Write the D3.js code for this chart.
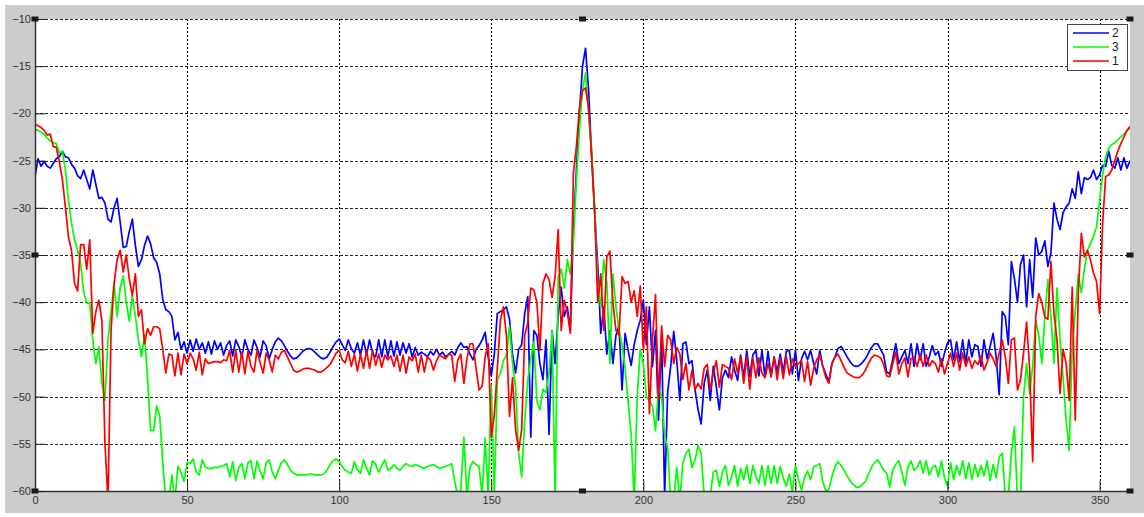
<!DOCTYPE html>
<html>
<head>
<meta charset="utf-8">
<script src="https://d3js.org/d3.v7.min.js"></script>
<style>
body { margin: 0; background: #ffffff; }
text { font-family: "Liberation Sans", Arial, sans-serif; }
</style>
</head>
<body>
<script>
// axis ticks
var xTicks = [0, 50, 100, 150, 200, 250, 300, 350];
var yTicks = [-60, -55, -50, -45, -40, -35, -30, -25, -20, -15, -10];
// legend order = plot order
var legendNames = ["2", "3", "1"];
var legendColors = ["#0000ff", "#00ff00", "#ff0000"];

// one value per degree, 0..360
var trace2 = [
 -26.7,-24.8,-25.6,-25.1,-25.6,-25.8,-25.3,-24.8,-24.6,-24.0,
 -24.6,-24.7,-25.4,-25.8,-26.6,-26.9,-26.0,-27.0,-28.0,-26.0,
 -27.5,-29.0,-28.9,-29.5,-31.2,-31.5,-30.0,-29.0,-31.5,-34.2,
 -34.1,-32.5,-31.2,-34.0,-36.2,-35.5,-34.0,-33.0,-33.8,-35.3,
 -35.8,-37.0,-39.7,-40.8,-41.0,-41.5,-44.0,-43.2,-45.0,-44.2,
 -45.4,-44.0,-45.2,-43.9,-45.0,-44.3,-45.4,-44.2,-45.5,-44.1,
 -45.0,-44.3,-45.6,-44.6,-44.1,-45.7,-44.0,-44.7,-45.8,-44.0,
 -45.0,-45.6,-44.0,-44.8,-45.8,-44.1,-44.6,-46.0,-45.0,-44.2,
 -43.8,-44.1,-44.6,-45.2,-45.7,-46.0,-45.9,-45.6,-45.2,-45.0,
 -44.9,-45.0,-45.3,-45.6,-45.9,-46.0,-45.8,-45.3,-44.7,-44.2,
 -43.9,-44.5,-45.1,-44.0,-44.9,-45.4,-44.3,-45.6,-44.0,-45.6,
 -44.0,-45.4,-45.8,-44.0,-45.8,-44.0,-45.8,-44.1,-45.7,-44.2,
 -45.6,-44.3,-45.4,-44.4,-45.8,-44.8,-45.6,-45.3,-45.5,-45.8,
 -45.2,-45.6,-45.0,-45.6,-45.3,-45.8,-45.5,-45.2,-45.6,-44.8,
 -44.3,-44.8,-44.7,-45.5,-46.1,-45.0,-44.6,-44.0,-43.2,-45.8,
 -47.8,-45.5,-41.2,-41.0,-40.8,-40.5,-41.8,-45.5,-47.5,-45.0,
 -44.5,-41.2,-39.4,-54.3,-43.0,-43.5,-46.5,-48.2,-44.0,-54.0,
 -43.0,-46.5,-41.5,-38.4,-41.5,-40.5,-43.0,-32.3,-26.0,-20.0,
 -15.0,-13.1,-17.5,-24.5,-30.5,-36.0,-43.3,-40.5,-45.5,-43.0,
 -46.5,-43.5,-42.5,-49.3,-43.3,-45.1,-46.7,-44.5,-43.0,-41.9,
 -39.8,-44.5,-40.5,-46.8,-43.0,-52.5,-43.5,-60.5,-49.5,-46.8,
 -43.1,-46.2,-50.4,-44.4,-44.2,-46.5,-46.2,-49.3,-51.4,-52.9,
 -48.6,-47.2,-50.4,-46.8,-49.0,-51.4,-48.0,-47.2,-48.0,-45.8,
 -47.2,-48.3,-45.6,-48.0,-45.1,-47.9,-45.6,-45.1,-47.8,-45.1,
 -47.9,-45.2,-47.9,-45.8,-47.4,-45.5,-47.4,-45.2,-45.1,-47.6,
 -45.1,-48.3,-46.0,-45.2,-46.1,-45.1,-46.5,-47.6,-45.1,-46.8,
 -47.6,-48.4,-46.5,-45.8,-44.9,-44.7,-45.2,-45.8,-46.3,-46.7,
 -46.8,-46.7,-46.4,-46.0,-45.4,-44.8,-44.4,-44.4,-45.0,-45.6,
 -47.4,-47.6,-46.0,-44.4,-46.5,-45.8,-45.1,-46.5,-44.4,-46.8,
 -44.4,-46.1,-44.4,-46.8,-45.8,-44.6,-45.6,-45.2,-46.8,-45.4,
 -44.3,-44.0,-46.1,-44.2,-46.3,-44.0,-46.5,-44.0,-45.8,-44.5,
 -44.7,-46.8,-44.0,-46.0,-44.7,-43.3,-45.8,-49.8,-41.0,-41.5,
 -44.5,-35.7,-37.5,-40.0,-36.0,-35.0,-40.5,-35.5,-39.5,-33.2,
 -35.0,-34.6,-33.5,-36.2,-34.8,-29.5,-31.2,-32.3,-30.5,-29.9,
 -29.5,-28.0,-29.0,-26.2,-28.5,-26.8,-27.0,-26.8,-26.0,-27.0,
 -26.5,-25.5,-25.6,-24.0,-25.5,-25.8,-24.7,-26.0,-24.7,-25.8,
 -25.0
];

var trace3 = [
 -21.7,-21.8,-22.0,-22.2,-22.6,-22.9,-23.1,-23.2,-24.2,-24.0,
 -26.0,-29.2,-31.6,-33.4,-34.5,-35.9,-38.9,-40.1,-40.1,-44.0,
 -46.5,-44.7,-48.6,-50.4,-44.0,-41.0,-38.0,-41.5,-38.5,-37.2,
 -40.0,-42.0,-39.3,-41.5,-44.0,-45.8,-43.4,-48.0,-53.6,-53.6,
 -51.0,-52.0,-57.0,-61.0,-61.0,-58.3,-61.0,-57.4,-58.0,-59.0,
 -57.0,-57.1,-56.6,-58.0,-58.3,-56.7,-57.5,-57.6,-57.6,-57.5,
 -57.5,-57.4,-57.3,-57.1,-58.5,-56.9,-58.9,-57.5,-57.1,-58.7,
 -57.0,-56.8,-58.7,-56.8,-57.9,-58.7,-57.0,-56.7,-58.0,-58.7,
 -57.8,-57.0,-56.7,-57.2,-57.8,-58.1,-58.3,-58.3,-58.3,-58.3,
 -58.2,-58.2,-58.3,-58.3,-58.3,-58.2,-57.8,-57.2,-56.8,-56.6,
 -56.9,-57.4,-57.8,-58.0,-58.1,-56.9,-57.8,-58.1,-56.7,-57.6,
 -58.3,-56.8,-57.2,-58.0,-57.3,-56.7,-57.8,-57.6,-57.2,-57.6,
 -57.8,-57.4,-57.1,-57.3,-57.4,-57.2,-57.3,-57.5,-57.6,-57.4,
 -57.3,-57.2,-57.4,-57.6,-57.5,-57.4,-57.3,-57.1,-59.0,-60.5,
 -59.9,-54.3,-60.5,-57.5,-56.9,-57.2,-57.4,-60.5,-54.4,-60.5,
 -48.8,-60.5,-48.3,-47.5,-46.2,-45.6,-42.5,-46.5,-49.0,-56.0,
 -58.5,-52.5,-48.3,-46.0,-44.2,-50.5,-51.4,-49.2,-49.6,-47.5,
 -43.0,-61.0,-37.3,-36.5,-38.5,-35.5,-37.0,-33.8,-27.0,-21.7,
 -17.5,-15.7,-20.0,-24.0,-30.0,-38.0,-40.5,-35.5,-38.0,-46.5,
 -37.0,-40.5,-43.0,-44.5,-47.0,-50.5,-54.0,-61.0,-50.0,-45.0,
 -46.5,-50.0,-50.5,-51.0,-53.6,-49.0,-50.0,-54.0,-55.5,-61.0,
 -61.0,-57.5,-61.0,-57.0,-56.0,-55.6,-57.5,-56.7,-55.2,-56.0,
 -60.5,-61.0,-60.5,-58.0,-57.8,-59.5,-58.0,-57.3,-59.4,-58.5,
 -57.3,-59.5,-57.6,-58.8,-57.3,-59.2,-57.3,-58.5,-59.2,-57.3,
 -59.4,-57.3,-59.2,-57.3,-59.2,-57.4,-58.6,-59.5,-58.2,-60.1,
 -57.3,-58.8,-59.9,-58.5,-57.9,-58.8,-57.4,-57.3,-57.1,-59.0,
 -60.0,-59.8,-58.5,-57.4,-56.9,-57.3,-57.8,-58.4,-58.9,-59.3,
 -59.6,-59.6,-59.3,-59.0,-58.2,-57.5,-57.0,-56.7,-57.2,-57.8,
 -58.1,-59.6,-57.8,-57.2,-56.8,-58.0,-59.4,-57.5,-56.8,-57.8,
 -57.5,-56.8,-58.1,-56.8,-58.3,-57.5,-57.3,-58.5,-56.8,-58.6,
 -59.5,-57.0,-58.8,-57.3,-58.3,-56.8,-58.7,-57.0,-58.8,-57.2,
 -58.5,-57.3,-58.4,-56.8,-58.9,-57.2,-58.6,-56.4,-56.0,-60.5,
 -60.5,-56.0,-53.2,-61.0,-61.0,-50.0,-46.5,-49.7,-46.8,-41.9,
 -43.5,-46.5,-41.5,-37.6,-41.5,-46.5,-38.5,-44.0,-48.0,-52.5,
 -55.7,-45.0,-41.0,-37.0,-39.0,-36.5,-34.5,-33.8,-33.0,-32.0,
 -29.2,-26.5,-24.6,-23.7,-23.3,-23.1,-22.8,-22.5,-22.2,-21.8,
 -21.6
];

var trace1 = [
 -21.2,-21.3,-21.5,-21.8,-22.3,-22.2,-23.5,-23.6,-25.1,-27.0,
 -29.9,-33.1,-34.5,-38.0,-38.8,-33.9,-33.9,-36.5,-33.4,-43.3,
 -41.0,-39.8,-42.0,-55.0,-61.0,-43.0,-38.0,-35.5,-34.5,-36.8,
 -35.0,-37.5,-39.3,-37.0,-41.5,-40.8,-44.4,-42.8,-43.5,-42.6,
 -42.6,-42.8,-45.0,-47.5,-45.5,-45.6,-47.8,-45.4,-47.7,-45.5,
 -46.5,-45.4,-46.0,-47.2,-45.3,-47.7,-46.0,-46.5,-46.4,-46.3,
 -46.3,-46.4,-46.1,-46.2,-45.1,-47.4,-45.1,-47.4,-45.3,-47.6,
 -45.2,-46.8,-47.4,-45.1,-46.4,-47.5,-45.4,-46.1,-47.4,-45.6,
 -46.0,-45.3,-45.1,-45.8,-46.5,-47.2,-47.4,-47.3,-47.1,-47.0,
 -47.0,-47.1,-47.2,-47.4,-47.4,-47.2,-46.9,-46.6,-46.0,-45.4,
 -45.1,-46.1,-46.4,-45.2,-46.8,-45.5,-47.3,-45.5,-47.0,-45.1,
 -47.0,-45.1,-46.7,-45.5,-46.9,-45.6,-46.1,-45.7,-46.8,-45.6,
 -47.3,-45.6,-47.5,-45.8,-46.2,-45.5,-47.4,-45.6,-47.4,-45.8,
 -46.1,-47.2,-46.2,-45.6,-45.8,-46.0,-45.5,-45.6,-48.4,-46.1,
 -45.5,-48.6,-46.0,-44.4,-44.4,-47.0,-49.3,-48.9,-45.8,-44.4,
 -54.3,-52.0,-47.0,-41.9,-40.5,-43.6,-52.1,-48.0,-53.5,-55.7,
 -53.5,-43.5,-42.2,-38.5,-38.7,-40.0,-45.1,-38.0,-37.0,-37.6,
 -39.5,-37.3,-32.3,-43.0,-39.8,-41.0,-43.3,-26.3,-23.5,-19.4,
 -17.6,-17.3,-19.5,-24.5,-30.5,-40.0,-37.0,-43.0,-35.2,-34.6,
 -40.0,-43.0,-43.5,-37.3,-38.0,-37.8,-40.0,-38.8,-41.5,-38.3,
 -45.1,-40.5,-51.8,-44.0,-39.2,-50.4,-42.5,-46.8,-43.5,-44.0,
 -46.5,-44.8,-45.5,-48.2,-46.5,-49.3,-47.2,-49.3,-48.6,-49.2,
 -47.0,-46.6,-49.3,-47.5,-46.2,-49.0,-46.6,-46.8,-47.0,-48.2,
 -46.0,-47.5,-45.8,-48.6,-45.8,-49.2,-45.9,-48.0,-45.9,-47.5,
 -48.0,-46.5,-47.8,-45.8,-48.2,-45.9,-48.1,-45.8,-47.7,-46.0,
 -46.8,-46.5,-46.2,-48.4,-46.3,-48.8,-47.0,-46.1,-45.6,-46.8,
 -48.0,-48.6,-46.5,-45.8,-45.5,-46.2,-46.9,-47.5,-47.7,-47.9,
 -48.0,-48.0,-47.7,-47.2,-46.5,-45.9,-45.6,-45.7,-45.9,-46.6,
 -47.8,-47.9,-46.5,-45.3,-47.6,-46.5,-45.9,-47.9,-46.0,-45.8,
 -46.8,-45.6,-46.8,-45.6,-46.8,-46.2,-46.5,-47.4,-46.0,-47.6,
 -46.5,-45.4,-46.8,-45.4,-47.2,-45.4,-46.8,-45.8,-47.0,-46.2,
 -46.6,-45.7,-47.2,-46.4,-45.4,-46.0,-46.8,-45.4,-44.0,-45.8,
 -48.6,-44.0,-43.8,-49.3,-48.2,-45.4,-42.1,-47.0,-56.9,-41.5,
 -39.1,-40.0,-41.6,-41.8,-35.7,-41.2,-44.0,-49.7,-45.0,-46.5,
 -50.4,-38.4,-52.5,-39.0,-32.7,-35.2,-34.5,-35.5,-36.9,-37.8,
 -41.2,-31.6,-26.7,-26.5,-26.0,-25.0,-24.0,-23.2,-22.5,-21.8,
 -21.4
];

var traces = [trace2, trace3, trace1];

var W = 1144, H = 517;
var plotL = 35, plotR = 1130, plotT = 19, plotB = 491;

var svg = d3.select("body").append("svg").attr("width", W).attr("height", H);

// grey figure background
svg.append("rect").attr("x", 5).attr("y", 5).attr("width", W - 5).attr("height", H - 9).attr("fill", "#cccccc");
svg.append("rect").attr("x", plotL).attr("y", plotT).attr("width", plotR - plotL).attr("height", plotB - plotT).attr("fill", "#ffffff");

var x = d3.scaleLinear().domain([0, 360]).range([plotL, plotR]);
var y = d3.scaleLinear().domain([-60, -10]).range([plotB, plotT]);

// dotted grid
var grid = svg.append("g").attr("shape-rendering", "crispEdges");
grid.selectAll("line.gx").data(xTicks.filter(function(d){ return d > 0; })).enter().append("line")
    .attr("x1", function(d){ return Math.round(x(d)) + 0.5; }).attr("x2", function(d){ return Math.round(x(d)) + 0.5; })
    .attr("y1", plotT).attr("y2", plotB)
    .attr("stroke", "#000").attr("stroke-dasharray", "2,2");
grid.selectAll("line.gy").data(yTicks.filter(function(d){ return d > -60; })).enter().append("line")
    .attr("y1", function(d){ return Math.round(y(d)) + 0.5; }).attr("y2", function(d){ return Math.round(y(d)) + 0.5; })
    .attr("x1", plotL).attr("x2", plotR)
    .attr("stroke", "#222").attr("stroke-dasharray", "3,2");

// lines, clipped to the axes box
svg.append("clipPath").attr("id", "plotclip").append("rect")
    .attr("x", plotL).attr("y", plotT).attr("width", plotR - plotL).attr("height", plotB - plotT);

var line = d3.line().x(function(d, i){ return x(i); }).y(function(d){ return y(d); });
var lines = svg.append("g").attr("clip-path", "url(#plotclip)");
traces.forEach(function(t, k) {
    lines.append("path").attr("d", line(t)).attr("fill", "none")
        .attr("stroke", legendColors[k]).attr("stroke-width", 1.7).attr("stroke-linejoin", "round");
});

// axes (ticks point inward)
var xAxis = svg.append("g").attr("transform", "translate(0," + plotB + ")")
    .call(d3.axisBottom(x).tickValues(xTicks).tickSize(-10).tickSizeOuter(0).tickPadding(5).tickFormat(d3.format("d")));
var yAxis = svg.append("g").attr("transform", "translate(" + plotL + ",0)")
    .call(d3.axisLeft(y).tickValues(yTicks).tickSize(-10).tickSizeOuter(0).tickPadding(4).tickFormat(d3.format("d")));
[xAxis, yAxis].forEach(function(a) {
    a.select(".domain").attr("stroke", "#333").attr("stroke-width", 1.5);
    a.selectAll(".tick line").attr("stroke", "#222");
    a.selectAll(".tick text").attr("fill", "#333").attr("font-size", "11px")
        .attr("font-family", "'Liberation Sans', Arial, sans-serif");
});

// selection handles
var midX = (plotL + plotR) / 2, midY = (plotT + plotB) / 2;
var handles = [[plotL, plotT], [midX, plotT], [plotR, plotT], [plotR, midY], [plotR, plotB], [midX, plotB], [plotL, plotB], [plotL, midY]];
svg.selectAll("rect.handle").data(handles).enter().append("rect")
    .attr("x", function(d){ return d[0] - 3.5; }).attr("y", function(d){ return d[1] - 2.5; })
    .attr("width", 7).attr("height", 5).attr("fill", "#1a1a1a");

// legend
var lg = svg.append("g");
lg.append("rect").attr("x", 1067.5).attr("y", 24.5).attr("width", 60).attr("height", 46)
    .attr("fill", "#ffffff").attr("stroke", "#444");
legendNames.forEach(function(n, k) {
    var ly = 33 + k * 14;
    lg.append("line").attr("x1", 1073).attr("x2", 1109).attr("y1", ly).attr("y2", ly)
        .attr("stroke", legendColors[k]).attr("stroke-width", 1.7);
    lg.append("text").attr("x", 1112).attr("y", ly + 4).attr("font-size", "12px").attr("fill", "#222").text(n);
});
</script>
</body>
</html>
